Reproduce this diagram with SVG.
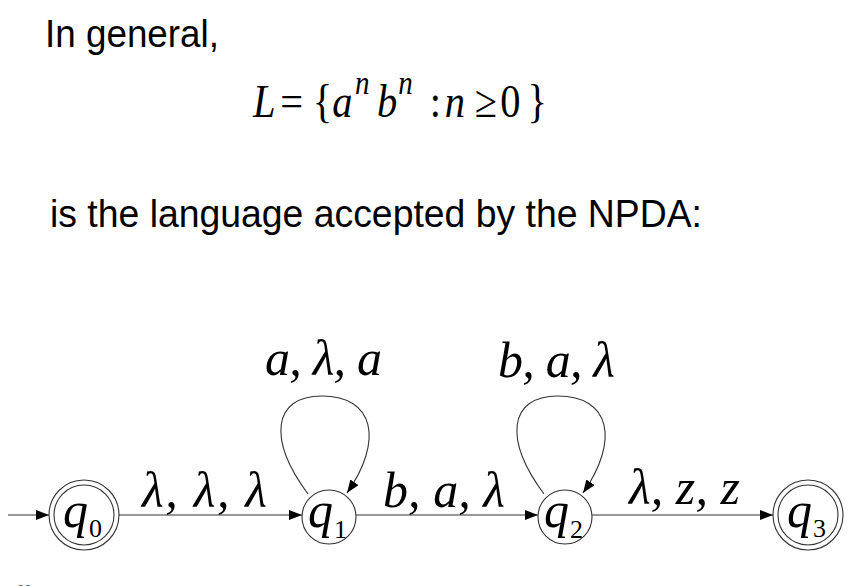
<svg xmlns="http://www.w3.org/2000/svg" width="863" height="586" viewBox="0 0 863 586">
<style>
.sans{font-family:"Liberation Sans",Arial,sans-serif;fill:#000}
.math{font-family:"Liberation Serif","Times New Roman",serif;fill:#000}
.it{font-style:italic}
.edge{fill:none;stroke:#333;stroke-width:1.1}
.state{fill:#fff;stroke:#333;stroke-width:1.1}
.lbl{font-family:"Liberation Serif","Times New Roman",serif;font-style:italic;font-size:50px;fill:#000}
.q{font-family:"Liberation Serif","Times New Roman",serif;font-style:italic;font-size:50px;fill:#000}
.sub{font-family:"Liberation Serif","Times New Roman",serif;font-size:26px;fill:#000}
</style>
<defs>
<marker id="arr" markerUnits="userSpaceOnUse" markerWidth="14" markerHeight="11" refX="13" refY="5" orient="auto">
<path d="M0,0 L13,5 L0,10 z" fill="#000"/>
</marker>
</defs>
<rect width="863" height="586" fill="#fff"/>
<text class="sans" x="45" y="47" font-size="38" textLength="174" lengthAdjust="spacingAndGlyphs">In general,</text>
<g transform="translate(253,117) scale(0.88,1)">
<text class="math" font-size="46"><tspan class="it" x="0" y="0">L</tspan><tspan x="31" y="0">=</tspan><tspan x="68" y="0">{</tspan><tspan class="it" x="90" y="0">a</tspan><tspan class="it" x="116" y="-23" font-size="33">n</tspan><tspan class="it" x="141" y="0">b</tspan><tspan class="it" x="165" y="-23" font-size="33">n</tspan><tspan x="201" y="0">:</tspan><tspan class="it" x="218" y="0">n</tspan><tspan x="252" y="0">≥</tspan><tspan x="281" y="0">0</tspan><tspan x="312" y="0">}</tspan></text>
</g>
<text class="sans" x="50" y="227" font-size="38" textLength="652" lengthAdjust="spacingAndGlyphs">is the language accepted by the NPDA:</text>
<g id="connectors">
<line class="edge" x1="8" y1="515" x2="49" y2="515" marker-end="url(#arr)"/>
<line class="edge" x1="119" y1="515" x2="302" y2="515" marker-end="url(#arr)"/>
<line class="edge" x1="356" y1="515" x2="538" y2="515" marker-end="url(#arr)"/>
<line class="edge" x1="592" y1="515" x2="773" y2="515" marker-end="url(#arr)"/>
<path class="edge" d="M308,494 C268,440 272,396 322,396 C374,396 384,440 347,493" marker-end="url(#arr)"/>
<path class="edge" d="M544,494 C504,440 508,396 558,396 C610,396 620,440 583,493" marker-end="url(#arr)"/>
<text class="lbl" x="142" y="507" textLength="125">λ, λ, λ</text>
<text class="lbl" x="383" y="507" textLength="122">b, a, λ</text>
<text class="lbl" x="629" y="504" textLength="111">λ, z, z</text>
<text class="lbl" x="265" y="375" textLength="117">a, λ, a</text>
<text class="lbl" x="498" y="377" textLength="117">b, a, λ</text>
</g>
<g id="q0">
<circle class="state" cx="84" cy="515" r="35"/>
<circle class="state" cx="84" cy="515" r="30"/>
<text class="q" x="63" y="527">q</text><text class="sub" x="89" y="537">0</text>
</g>
<g id="q1">
<circle class="state" cx="329" cy="517" r="27"/>
<text class="q" x="308" y="527">q</text><text class="sub" x="334" y="538">1</text>
</g>
<g id="q2">
<circle class="state" cx="565" cy="517" r="27"/>
<text class="q" x="544" y="527">q</text><text class="sub" x="570" y="538">2</text>
</g>
<g id="q3">
<circle class="state" cx="808" cy="515" r="35"/>
<circle class="state" cx="808" cy="515" r="30"/>
<text class="q" x="787" y="527">q</text><text class="sub" x="813" y="537">3</text>
</g>
<text class="sans" x="17" y="594" font-size="13" style="fill:#555">26</text>
</svg>
